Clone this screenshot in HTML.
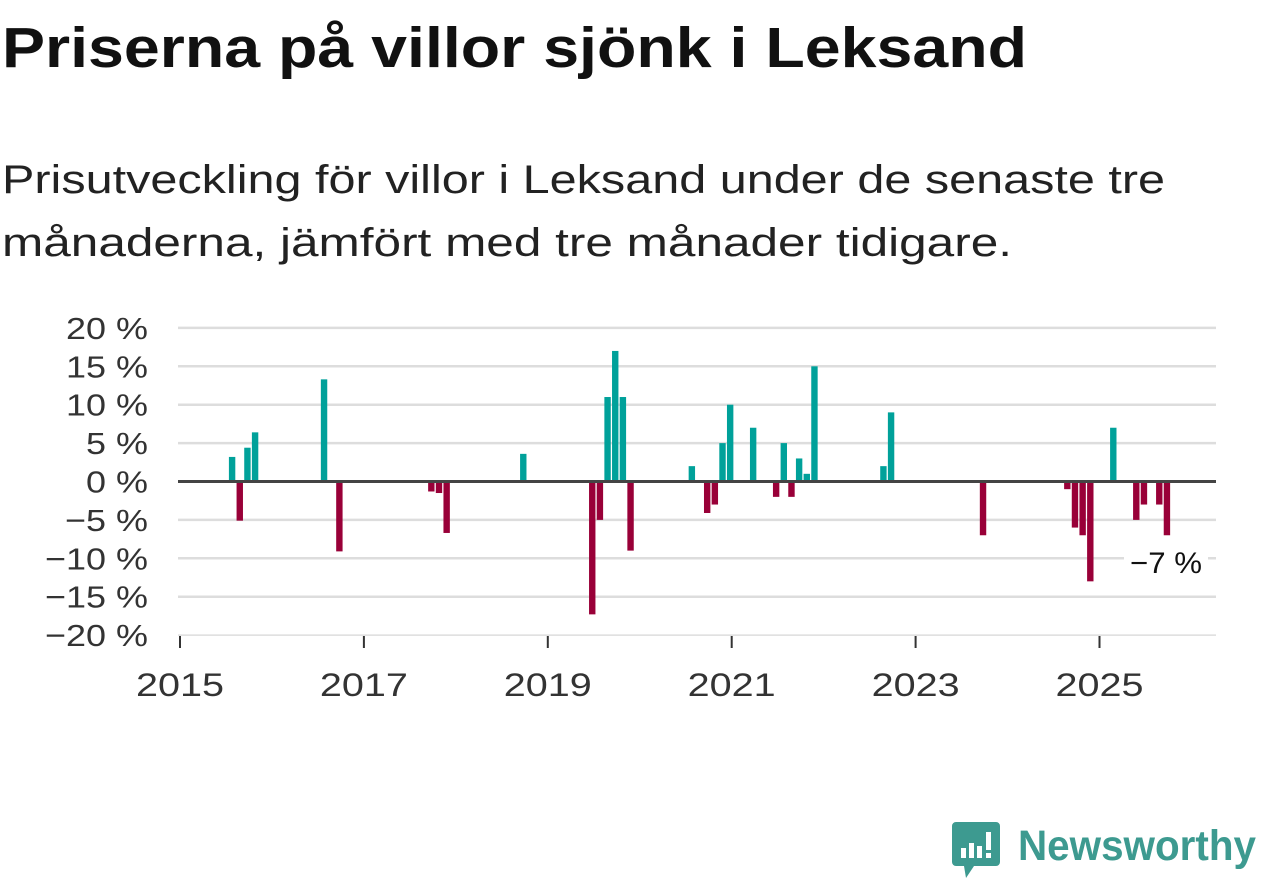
<!DOCTYPE html>
<html><head><meta charset="utf-8"><style>
body{margin:0;background:#fff;width:1262px;height:879px;overflow:hidden}
svg text{font-family:"Liberation Sans",sans-serif}
</style></head><body>
<svg id="chart" width="1262" height="879" xmlns="http://www.w3.org/2000/svg">
<text x="2" y="67" font-size="57" font-weight="bold" fill="#111" textLength="1025" lengthAdjust="spacingAndGlyphs">Priserna på villor sjönk i Leksand</text>
<text x="2" y="193" font-size="40" fill="#222" textLength="1163" lengthAdjust="spacingAndGlyphs">Prisutveckling för villor i Leksand under de senaste tre</text>
<text x="2" y="256" font-size="40" fill="#222" textLength="1010" lengthAdjust="spacingAndGlyphs">månaderna, jämfört med tre månader tidigare.</text>
<g id="grid"></g><g id="bars"></g><g id="axes"></g>
<g>
<rect x="1124" y="543" width="84" height="36" fill="#fff"/>
<text x="1202" y="573" font-size="30" fill="#111" text-anchor="end" textLength="72" lengthAdjust="spacingAndGlyphs">−7 %</text>
</g>
<g>
<path d="M956 822 h40 a4 4 0 0 1 4 4 v36 a4 4 0 0 1 -4 4 h-22 l-8 12 l-2 -12 h-8 a4 4 0 0 1 -4 -4 v-36 a4 4 0 0 1 4 -4z" fill="#3d9a90"/>
<rect x="961" y="848" width="5" height="10" fill="#fff"/><rect x="969" y="843" width="5" height="15" fill="#fff"/><rect x="977" y="846" width="5" height="12" fill="#fff"/><rect x="986" y="832" width="5" height="18" fill="#fff"/><rect x="986" y="853" width="5" height="5" fill="#fff"/>
<text x="1018" y="860" font-size="43" font-weight="bold" fill="#3d9a90" textLength="238" lengthAdjust="spacingAndGlyphs">Newsworthy</text>
</g>
</svg>
<script>
const months=[6,7,8,9,18,20,32,33,34,44,53,54,55,56,57,58,66,68,69,70,71,74,77,78,79,80,81,82,91,92,104,115,116,117,118,121,124,125,127,128];
const values=[3.2,-5.1,4.4,6.4,13.3,-9.1,-1.3,-1.5,-6.7,3.6,-17.3,-5,11,17,11,-9,2,-4.1,-3,5,10,7,-2,5,-2,3,1,15,2,9,-7,-1,-6,-7,-13,7,-5,-3,-3,-7];
const yTicks=[20,15,10,5,0,-5,-10,-15,-20];
const xTicks=[2015,2017,2019,2021,2023,2025];
const NS='http://www.w3.org/2000/svg';
const x0=180,x1=1216,y0=481.5,pxPerPct=7.68,pxPerYear=91.95;
function xYear(y){return x0+(y-2015)*pxPerYear;}
function xMonth(m){return xYear(2015+(m+0.8)/12);}
function yS(v){return y0-v*pxPerPct;}
function mk(tag,attrs,parent){const e=document.createElementNS(NS,tag);for(const k in attrs)e.setAttribute(k,attrs[k]);document.getElementById(parent).appendChild(e);return e;}
yTicks.forEach(t=>{
  if(t!==0&&t!==-20){const l=mk('line',{x1:x0-2,x2:x1,y1:yS(t),y2:yS(t),stroke:'#ddd','stroke-width':2.5},'grid');
  
  }
  const tx=mk('text',{x:148,y:yS(t)+11,'font-size':31,fill:'#333','text-anchor':'end'},'axes');
  tx.textContent=(t<0?'−'+(-t):t)+' %';
  
  
  const w=tx.getComputedTextLength();
  tx.setAttribute('textLength',w*1.16);
  tx.setAttribute('lengthAdjust','spacingAndGlyphs');
});
const base=mk('line',{x1:x0-2,x2:x1,y1:yS(-20),y2:yS(-20),stroke:'#ddd','stroke-width':1.5},'grid');


months.forEach((m,i)=>{
  const v=values[i],cx=xMonth(m);
  const r=mk('rect',{x:cx-3.2,width:6.4,y:Math.min(yS(v),y0),height:Math.abs(yS(v)-y0),fill:v>=0?'#00a19a':'#990038'},'bars');
  
  
});
const z=mk('line',{x1:x0-2,x2:x1,y1:y0,y2:y0,stroke:'#444','stroke-width':3},'axes');


xTicks.forEach(t=>{
  const tk=mk('line',{x1:xYear(t),x2:xYear(t),y1:636,y2:648,stroke:'#333','stroke-width':2},'axes');
  
  
  const tx=mk('text',{x:xYear(t),y:696,'font-size':32,fill:'#333','text-anchor':'middle',textLength:88,lengthAdjust:'spacingAndGlyphs'},'axes');
  tx.textContent=t;
  
  
});
</script>
</body></html>
